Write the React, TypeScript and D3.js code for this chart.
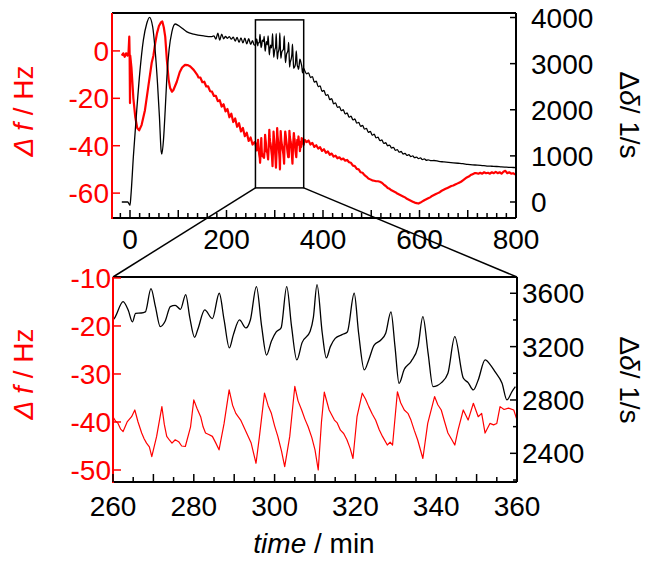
import React from "react";
import * as d3 from "d3";

// ---------- data (top panel, full run) ----------
// Δδ (right axis, 1/s) before the zoomed window
const deltaPre: [number, number][] = [
  [-17, 0], [-5, 0], [-2, -40], [0, -70], [2, 150], [7, 985], [14, 1995], [20.8, 2860], [27.7, 3510],
  [34.7, 3870], [40.3, 4005], [47, 3800], [52, 3300], [57, 2575], [61, 1850], [64.6, 1100], [66, 1040],
  [69.4, 1345], [73, 2000], [76.5, 2720], [81, 3300], [86.8, 3690], [93.75, 3860], [104, 3800],
  [118, 3690], [132, 3640], [153, 3600], [168, 3585], [174, 3600], [178, 3530], [182, 3660], [186, 3510],
  [190, 3640], [194, 3540], [198, 3590], [202, 3550], [206, 3585], [210, 3530], [214, 3575], [218, 3490],
  [222, 3570], [226, 3460], [230, 3560], [234, 3450], [238, 3550], [242, 3430], [246, 3540], [250, 3420],
  [254, 3500], [257, 3410],
];
// Δδ after the zoomed window
const deltaPost: [number, number][] = [
  [362, 2850], [366, 2780], [370, 2800], [374, 2700], [378, 2720], [382, 2600], [386, 2620], [390, 2500],
  [394, 2520], [398, 2400], [402, 2420], [406, 2310], [410, 2330], [414, 2220], [418, 2240], [422, 2130],
  [426, 2150], [430, 2050], [434, 2070], [438, 1980], [442, 2000], [446, 1910], [450, 1930], [454, 1840],
  [458, 1860], [462, 1780], [466, 1800], [470, 1710], [474, 1725], [478, 1640], [482, 1660], [486, 1580],
  [490, 1595], [494, 1510], [498, 1530], [502, 1450], [506, 1470], [510, 1390], [514, 1405], [518, 1330],
  [522, 1345], [526, 1270], [530, 1285], [534, 1220], [538, 1235], [542, 1170], [546, 1185], [550, 1120],
  [554, 1135], [558, 1080], [562, 1095], [566, 1040], [570, 1055], [574, 1010], [578, 1025], [582, 985],
  [586, 1000], [590, 960], [594, 975], [598, 940], [602, 955], [606, 920], [610, 935], [614, 905],
  [618, 915], [624, 895], [630, 900], [640, 880], [650, 870], [660, 860], [670, 850], [680, 840],
  [690, 830], [700, 815], [710, 805], [720, 800], [730, 790], [740, 780], [750, 775], [760, 770],
  [770, 760], [780, 755], [790, 750], [800, 745],
];
// Δf (left axis, Hz) before the zoomed window
const freqPre: [number, number][] = [
  [-17, -2], [-14, -1], [-11, -2.5], [-8, -1], [-5, -2], [-3, -0.5], [-1.5, 6], [-0.8, -1], [0, -22],
  [0.5, -2], [3, -7], [7, -20], [11, -28], [15, -32.5], [19, -33.5], [24, -31.3], [31, -25], [38, -15],
  [45, -5], [48.5, -2], [52, 3], [56, 7.5], [60, 10.5], [64, 12], [67, 12.4], [70, 10], [73, 6],
  [76.4, -3.8], [80, -12], [83, -15.5], [87, -17.2], [90, -16.5], [97, -13], [103, -9], [108, -7],
  [114, -5.9], [120, -6], [125, -6.6], [132, -8], [139, -10], [142, -11.2], [146, -11.3], [150, -13.2],
  [154, -13], [158, -15], [162, -15], [166, -17], [170, -17.2], [174, -19], [178, -19], [182, -21.2],
  [186, -20.8], [190, -23.5], [194, -22.5], [198, -25.5], [202, -24.5], [206, -28], [210, -26.5],
  [214, -30], [218, -28.5], [222, -32], [226, -30.5], [230, -34], [234, -32.5], [238, -36], [242, -34.5],
  [246, -38], [250, -36.5], [254, -39.5], [258, -38.5],
];
// Δf after the zoomed window
const freqPost: [number, number][] = [
  [362, -37.5], [366, -38.5], [370, -37.8], [374, -39.5], [378, -38.8], [382, -40.5], [386, -39.8],
  [390, -41.2], [394, -40.6], [398, -42.2], [402, -41.5], [406, -43], [410, -42.4], [414, -43.8],
  [418, -43.3], [422, -44.6], [426, -44.2], [430, -45.3], [434, -44.9], [438, -45.8], [442, -45.4],
  [446, -46.3], [450, -46], [454, -47], [458, -47.2], [462, -48.4], [466, -48.6], [470, -49.8],
  [474, -50], [478, -51.2], [482, -51.4], [486, -52.4], [490, -53], [494, -53.8], [498, -54.2],
  [502, -54.6], [506, -54.8], [510, -55], [514, -55], [518, -55.2], [522, -55.6], [526, -56.4],
  [530, -57], [534, -57.8], [538, -58.2], [542, -58.8], [546, -59.2], [550, -59.6], [554, -60.2],
  [558, -60.6], [562, -61], [566, -61.4], [570, -61.8], [574, -62.4], [578, -62.8], [582, -63.2],
  [586, -63.6], [590, -64], [594, -64.2], [598, -64.4], [602, -64], [606, -63.5], [610, -63],
  [614, -62.6], [618, -62.2], [622, -61.8], [626, -61.2], [630, -60.8], [634, -60.4], [638, -60],
  [642, -59.6], [646, -59], [650, -58.6], [654, -58.2], [658, -57.8], [662, -57.4], [666, -57],
  [670, -56.8], [674, -56.4], [678, -56], [682, -55.6], [686, -55.2], [690, -54.6], [694, -54],
  [698, -53.4], [702, -53], [706, -52.4], [710, -52], [714, -51.6], [718, -51.6], [722, -51.8],
  [726, -51.4], [730, -51.8], [734, -51.2], [738, -51.6], [742, -51.4], [746, -51.8], [750, -51.2],
  [754, -51.6], [758, -51], [762, -51.6], [766, -51.2], [770, -51.8], [774, -51], [778, -50.6],
  [782, -51.6], [786, -51.2], [790, -51.8], [794, -51.6], [798, -52], [800, -52.2],
];

// ---------- data (zoomed window 260–360 min) ----------
const deltaZoom: [number, number][] = [
  [260, 3400], [260.5, 3420], [262.5, 3537], [263.8, 3470], [264.8, 3385], [265.6, 3450], [267, 3452],
  [268, 3460], [269.4, 3635], [270.5, 3500], [271.7, 3350], [272.9, 3390], [274.2, 3500], [275.4, 3510],
  [276.7, 3480], [278, 3590], [279, 3420], [280.2, 3270], [281, 3330], [282.7, 3475], [284.6, 3410],
  [286.3, 3600], [287.5, 3400], [288.8, 3190], [289.8, 3290], [291.3, 3400], [292.9, 3340], [294, 3400],
  [295.5, 3650], [296.8, 3350], [298, 3137], [299.2, 3240], [300.4, 3310], [301.6, 3340], [303, 3650],
  [304.2, 3350], [305.5, 3100], [306.8, 3230], [308.8, 3315], [309.6, 3420], [310.5, 3665], [311.8, 3300],
  [312.8, 3115], [313.8, 3200], [315, 3262], [316.7, 3290], [318, 3310], [319.7, 3600], [320.8, 3300],
  [322.2, 3025], [323.3, 3100], [324.6, 3210], [326.3, 3250], [327.5, 3300], [328.8, 3460], [329.8, 3200],
  [330.8, 2925], [332.1, 3030], [333.8, 3090], [335.5, 3200], [336.7, 3425], [338, 3150], [339.2, 2900],
  [341.3, 2930], [342.9, 3000], [344.6, 3275], [346.7, 2965], [347.9, 2930], [349.2, 2875], [350.4, 2950],
  [352.1, 3100], [353.5, 3060], [354.6, 3010], [356.3, 2925], [357.5, 2800], [358.8, 2865], [359.6, 2900],
];
const freqZoom: [number, number][] = [
  [260, -38.9], [260.6, -39.8], [261.25, -40.3], [261.9, -41.5], [262.5, -42], [263.5, -40], [264.6, -38.9],
  [265.4, -37.5], [266.2, -40], [267.1, -42.3], [267.7, -43.5], [268.3, -44.4], [269, -45.2], [269.6, -47.2],
  [270.8, -43], [272.1, -36.8], [272.7, -40.5], [273.3, -43], [274, -43.8], [274.6, -44.4], [275.4, -43.7],
  [276.25, -44.1], [277, -45], [277.9, -45.1], [279.2, -41], [280, -35.4], [280.8, -37.2], [281.7, -38.9],
  [282.3, -41], [282.9, -42.3], [283.7, -42.6], [284.6, -43], [285.4, -44.3], [286.25, -45.8], [287.5, -40.3],
  [288.75, -33.3], [289.6, -36.5], [290.4, -38.2], [291.6, -39.6], [292.9, -42], [294.2, -44.4],
  [295.4, -48.6], [296.25, -43], [297.5, -34], [298.4, -36.6], [299.2, -38.2], [300, -40.8], [300.8, -43],
  [301.7, -46], [302.5, -49.3], [303.75, -43], [305, -32.6], [305.8, -35.6], [306.7, -37.5], [307.5, -39.4],
  [308.3, -41], [309.2, -43.2], [310, -45.8], [310.8, -50], [311.6, -40], [312.3, -33.8], [313.5, -37.5],
  [314.8, -39.6], [315.5, -40.2], [316.3, -41.7], [317.1, -42.4], [317.9, -43.7], [318.7, -45.5],
  [319.4, -47.6], [320.4, -38.9], [321.7, -34], [322.5, -35.2], [323.3, -36.8], [324.2, -38.4], [325, -39.6],
  [325.9, -41.6], [326.7, -43], [327.9, -44.8], [328.6, -44.2], [329.2, -44.8], [330.4, -33.7],
  [331.2, -36], [332.1, -37.5], [333, -38.2], [333.75, -39.6], [334.6, -41.8], [335.4, -43.7], [336.7, -47.6],
  [337.9, -40.3], [339.6, -34.7], [340.4, -36.4], [341.25, -37.5], [342.1, -40], [342.9, -42.3],
  [343.8, -43.6], [344.6, -44.8], [345.4, -41.7], [346.7, -37.5], [347.9, -39.6], [349.2, -36.1],
  [350.4, -38.9], [351.25, -38.2], [352.1, -42.3], [353.3, -40.3], [354.2, -40.6], [355, -40.3],
  [355.8, -36.8], [356.8, -37.4], [357.9, -37.1], [359.2, -37.5], [360, -39.6],
];

// ---------- ticks ----------
const topXLabels = [0, 200, 400, 600, 800];
const topFTicks = [0, -20, -40, -60];
const topDTicks = [0, 1000, 2000, 3000, 4000];
const botXLabels = [260, 280, 300, 320, 340, 360];
const botFTicks = [-10, -20, -30, -40, -50];
const botDTicks = [2400, 2800, 3200, 3600];
const botDMinor = [2200, 2600, 3000, 3400];
const zoomWindow = [260, 360];
const zoomBoxF = [-57.8, 13.1];

const RED = "#ff0000";
const FONT = "Liberation Sans, Arial, Helvetica, sans-serif";

export default function App() {
  // top panel
  const xT = d3.scaleLinear().domain([-37.3, 800]).range([112, 516]);
  const fT = d3.scaleLinear().domain([-70.5, 16]).range([218, 13]);
  const dT = d3.scaleLinear().domain([-347, 4098]).range([218, 13]);
  // bottom panel
  const xB = d3.scaleLinear().domain([260, 360]).range([113, 517]);
  const fB = d3.scaleLinear().domain([-52.5, -9.8]).range([482, 277]);
  const dB = d3.scaleLinear().domain([2185, 3722]).range([482, 277]);

  const lineTD = d3.line<[number, number]>().x((p) => xT(p[0])).y((p) => dT(p[1])).curve(d3.curveMonotoneX);
  const lineTF = d3.line<[number, number]>().x((p) => xT(p[0])).y((p) => fT(p[1]));
  const lineBD = d3.line<[number, number]>().x((p) => xB(p[0])).y((p) => dB(p[1])).curve(d3.curveMonotoneX);
  const lineBF = d3.line<[number, number]>().x((p) => xB(p[0])).y((p) => fB(p[1]));

  const topDelta = [...deltaPre, ...deltaZoom, ...deltaPost];
  const topFreq = [...freqPre, ...freqZoom, ...freqPost];

  const [tL, tR] = xT.range();
  const [tB, tTop] = fT.range();
  const [bL, bR] = xB.range();
  const [bB, bTop] = fB.range();

  const topXTicks = d3.range(-20, 801, 20);
  const botXTicks = d3.range(260, 361, 5);

  const boxX0 = xT(zoomWindow[0]);
  const boxX1 = xT(zoomWindow[1]);
  const boxY0 = fT(zoomBoxF[1]);
  const boxY1 = fT(zoomBoxF[0]);

  const ax = { strokeWidth: 2, fill: "none" };

  return (
    <svg width={651} height={563} style={{ position: "absolute", left: 0, top: 0, background: "#fff" }}
      fontFamily={FONT}>
      <rect x={0} y={0} width={651} height={563} fill="#fff" />

      {/* ===== top panel ===== */}
      <path d={lineTF(topFreq) || ""} stroke={RED} strokeWidth={2.2} fill="none" strokeLinejoin="round" />
      <path d={lineTD(topDelta) || ""} stroke="#000" strokeWidth={1.3} fill="none" strokeLinejoin="round" />

      {/* frame */}
      <line x1={tL} x2={tR} y1={tTop} y2={tTop} stroke="#000" {...ax} />
      <line x1={tL} x2={tR} y1={tB} y2={tB} stroke="#000" {...ax} />
      <line x1={tR} x2={tR} y1={tTop} y2={tB} stroke="#000" {...ax} />
      <line x1={tL} x2={tL} y1={tTop} y2={tB + 1} stroke={RED} {...ax} />

      {topXTicks.map((v) => (
        <line key={"txt" + v} x1={xT(v)} x2={xT(v)} y1={tB} y2={tB - (v % 100 === 0 ? 8 : 5)} stroke="#000" strokeWidth={1.5} />
      ))}
      {topXLabels.map((v) => (
        <text key={"txl" + v} x={xT(v)} y={249} fontSize={28} textAnchor="middle" fill="#000">{v}</text>
      ))}
      {topFTicks.map((v) => (
        <g key={"tf" + v}>
          <line x1={tL} x2={tL + 8} y1={fT(v)} y2={fT(v)} stroke={RED} strokeWidth={1.5} />
          <text x={109} y={fT(v)} dy="0.36em" fontSize={28} textAnchor="end" fill={RED}>{v}</text>
        </g>
      ))}
      {topDTicks.map((v) => (
        <g key={"td" + v}>
          <line x1={tR} x2={tR - 6} y1={dT(v)} y2={dT(v)} stroke="#000" strokeWidth={1.5} />
          <text x={531} y={dT(v)} dy="0.36em" fontSize={28} textAnchor="start" fill="#000">{v}</text>
        </g>
      ))}

      {/* zoom box + connectors */}
      <rect x={boxX0} y={boxY0} width={boxX1 - boxX0} height={boxY1 - boxY0} fill="none" stroke="#000" strokeWidth={1.5} />
      <line x1={boxX0} y1={boxY1} x2={bL} y2={bTop} stroke="#000" strokeWidth={1.5} />
      <line x1={boxX1} y1={boxY1} x2={bR} y2={bTop} stroke="#000" strokeWidth={1.5} />

      {/* axis titles top */}
      <text transform={`translate(33,111) rotate(-90)`} fontSize={28} textAnchor="middle" fill={RED}>
        <tspan fontStyle="italic">Δ f</tspan> / Hz
      </text>
      <text transform={`translate(620,115) rotate(90)`} fontSize={28} textAnchor="middle" fill="#000">
        Δ<tspan fontStyle="italic">δ</tspan>/ 1/s
      </text>

      {/* ===== bottom panel ===== */}
      <path d={lineBF(freqZoom) || ""} stroke={RED} strokeWidth={1.2} fill="none" strokeLinejoin="round" />
      <path d={lineBD(deltaZoom) || ""} stroke="#000" strokeWidth={1.3} fill="none" strokeLinejoin="round" />

      <line x1={bL} x2={bR} y1={bTop} y2={bTop} stroke="#000" {...ax} />
      <line x1={bL} x2={bR} y1={bB} y2={bB} stroke="#000" {...ax} />
      <line x1={bR} x2={bR} y1={bTop} y2={bB} stroke="#000" {...ax} />
      <line x1={bL} x2={bL} y1={bTop} y2={bB + 1} stroke={RED} {...ax} />

      {botXTicks.map((v) => (
        <line key={"bxt" + v} x1={xB(v)} x2={xB(v)} y1={bB} y2={bB - (v % 10 === 0 ? 8 : 5)} stroke="#000" strokeWidth={1.5} />
      ))}
      {botXLabels.map((v) => (
        <text key={"bxl" + v} x={xB(v)} y={516} fontSize={28} textAnchor="middle" fill="#000">{v}</text>
      ))}
      {botFTicks.map((v) => (
        <g key={"bf" + v}>
          <line x1={bL} x2={bL + 8} y1={fB(v)} y2={fB(v)} stroke={RED} strokeWidth={1.5} />
          <text x={111} y={fB(v)} dy="0.36em" fontSize={28} textAnchor="end" fill={RED}>{v}</text>
        </g>
      ))}
      {botDTicks.map((v) => (
        <g key={"bd" + v}>
          <line x1={bR} x2={bR - 7} y1={dB(v)} y2={dB(v)} stroke="#000" strokeWidth={1.5} />
          <text x={522} y={dB(v)} dy="0.36em" fontSize={28} textAnchor="start" fill="#000">{v}</text>
        </g>
      ))}
      {botDMinor.map((v) => (
        <line key={"bdm" + v} x1={bR} x2={bR - 4} y1={dB(v)} y2={dB(v)} stroke="#000" strokeWidth={1.5} />
      ))}

      <text transform={`translate(33,374) rotate(-90)`} fontSize={28} textAnchor="middle" fill={RED}>
        <tspan fontStyle="italic">Δ f</tspan> / Hz
      </text>
      <text transform={`translate(620,380) rotate(90)`} fontSize={28} textAnchor="middle" fill="#000">
        Δ<tspan fontStyle="italic">δ</tspan>/ 1/s
      </text>
      <text x={314} y={553} fontSize={28} textAnchor="middle" fill="#000">
        <tspan fontStyle="italic">time</tspan> / min
      </text>
    </svg>
  );
}
